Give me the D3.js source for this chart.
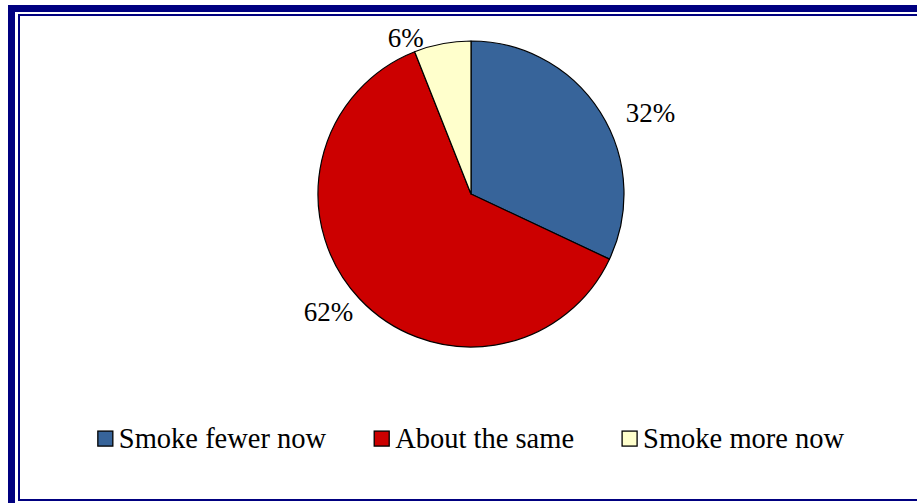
<!DOCTYPE html>
<html>
<head>
<meta charset="utf-8">
<script src="https://cdn.jsdelivr.net/npm/d3@7/dist/d3.min.js"></script>
<style>
  html, body { margin: 0; padding: 0; background: #ffffff; }
  svg { display: block; }
</style>
</head>
<body>
<svg id="chart" width="917" height="503"></svg>
<script>
// Survey answers: change in smoking
const categories = ["Smoke fewer now", "About the same", "Smoke more now"];
const shares = [32, 62, 6];
const sliceColors = ["#37649A", "#CC0000", "#FFFFCC"];
const valueLabels = ["32%", "62%", "6%"];

// Layout constants
const W = 917, H = 503;
const cx = 471, cy = 194, radius = 153;
const labelRadius = radius + 30;
// fine placement of each percentage label relative to its slice centroid
const labelNudge = [[25, 17], [-9, -8], [-31, 23]];
const fontFamily = "'Liberation Serif', Tinos, 'Times New Roman', Times, 'DejaVu Serif', serif";
const labelSize = 27;
const legendSize = 28.5;
const legendCenterX = 471, legendBaseline = 448, boxSize = 15, boxGap = 6, itemGap = 48;

const svg = d3.select("#chart");

// Double navy frame (extends past the right/bottom edges)
svg.append("rect")
  .attr("x", 11.5).attr("y", 8.5)
  .attr("width", 930).attr("height", 500)
  .attr("fill", "none").attr("stroke", "#000080").attr("stroke-width", 7);
svg.append("rect")
  .attr("x", 19).attr("y", 15)
  .attr("width", 912).attr("height", 485)
  .attr("fill", "#ffffff").attr("stroke", "#000080").attr("stroke-width", 2);

const pie = d3.pie().sort(null).value(d => d.value)
  .startAngle(0).endAngle(2 * Math.PI);
const data = categories.map((c, i) => ({ name: c, value: shares[i], color: sliceColors[i], label: valueLabels[i] }));
const arcs = pie(data);

const arc = d3.arc().innerRadius(0).outerRadius(radius);
const labelArc = d3.arc().innerRadius(labelRadius).outerRadius(labelRadius);

const g = svg.append("g").attr("transform", `translate(${cx},${cy})`);
g.selectAll("path.slice")
  .data(arcs)
  .join("path")
  .attr("class", "slice")
  .attr("d", arc)
  .attr("fill", d => d.data.color)
  .attr("stroke", "#000")
  .attr("stroke-width", 1.2)
  .attr("stroke-linejoin", "round");

g.selectAll("text.val")
  .data(arcs)
  .join("text")
  .attr("class", "val")
  .attr("x", (d, i) => labelArc.centroid(d)[0] + labelNudge[i][0])
  .attr("y", (d, i) => labelArc.centroid(d)[1] + labelNudge[i][1] + labelSize * 0.35)
  .attr("text-anchor", "middle")
  .attr("font-family", fontFamily)
  .attr("font-size", labelSize)
  .attr("fill", "#000")
  .text(d => d.data.label);

// Legend
const legend = svg.append("g");
const items = legend.selectAll("g.item").data(data).join("g").attr("class", "item");
items.append("rect")
  .attr("width", boxSize).attr("height", boxSize)
  .attr("y", -legendSize * 0.33 - boxSize / 2)
  .attr("fill", d => d.color)
  .attr("stroke", "#000").attr("stroke-width", 1.3);
items.append("text")
  .attr("x", boxSize + boxGap)
  .attr("y", 0)
  .attr("font-family", fontFamily)
  .attr("font-size", legendSize)
  .attr("fill", "#000")
  .text(d => d.name);

let xPos = 0;
items.each(function () {
  const w = d3.select(this).select("text").node().getComputedTextLength();
  d3.select(this).attr("transform", `translate(${xPos},0)`);
  xPos += boxSize + boxGap + w + itemGap;
});
const totalW = xPos - itemGap;
legend.attr("transform", `translate(${legendCenterX - totalW / 2},${legendBaseline})`);
</script>
</body>
</html>
